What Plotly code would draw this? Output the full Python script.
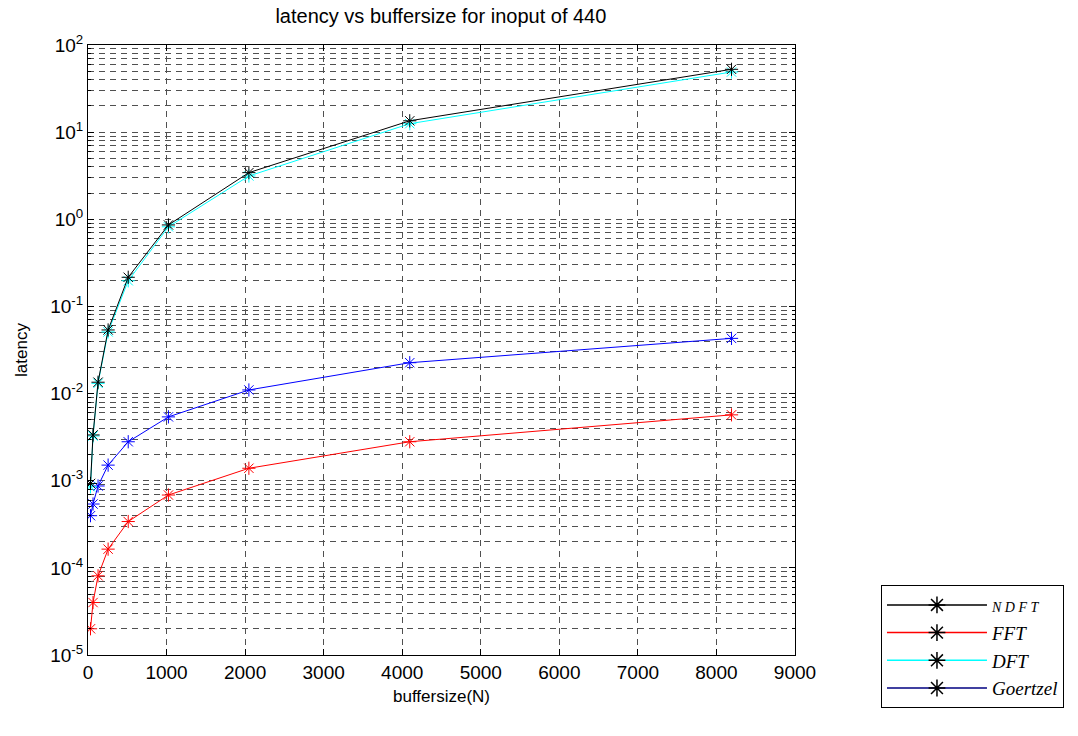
import plotly.graph_objects as go

# buffer sizes
N = [32, 64, 128, 256, 512, 1024, 2048, 4096, 8192]

# latency values
ndft = [9.3e-4, 3.35e-3, 1.35e-2, 5.37e-2, 0.216, 0.861, 3.43, 13.5, 52.6]
fft = [2.0e-5, 4.0e-5, 8.1e-5, 1.64e-4, 3.4e-4, 6.85e-4, 1.39e-3, 2.8e-3, 5.7e-3]
dft = [8.5e-4, 3.26e-3, 1.31e-2, 5.1e-2, 0.197, 0.82, 3.14, 12.5, 49.0]
goertzel = [3.97e-4, 5.4e-4, 8.7e-4, 1.51e-3, 2.8e-3, 5.4e-3, 1.1e-2, 2.26e-2, 4.3e-2]

x_ticks = [0, 1000, 2000, 3000, 4000, 5000, 6000, 7000, 8000, 9000]
y_exps = [-5, -4, -3, -2, -1, 0, 1, 2]

names = ["NDFT", "FFT", "DFT", "Goertzel"]
plot_colors = {"NDFT": "black", "FFT": "#ff0000", "DFT": "#00ffff", "Goertzel": "#0000ff"}
legend_colors = {"NDFT": "black", "FFT": "#ff0000", "DFT": "#00ffff", "Goertzel": "#000080"}
series = {"NDFT": ndft, "FFT": fft, "DFT": dft, "Goertzel": goertzel}

fig = go.Figure()

# plotted series (cyan under black)
for nm in ["FFT", "Goertzel", "DFT", "NDFT"]:
    c = plot_colors[nm]
    fig.add_trace(go.Scatter(
        x=N, y=series[nm], mode="lines+markers", showlegend=False,
        line=dict(color=c, width=1),
        marker=dict(symbol="asterisk-open", size=11, color=c, line=dict(color=c, width=1)),
    ))

# legend entries (black asterisks, as in the reference legend)
legend_labels = {
    "NDFT": "<span style='font-size:14px'>N D F T</span>",
    "FFT": "FFT",
    "DFT": "DFT",
    "Goertzel": "Goertzel",
}
for nm in names:
    fig.add_trace(go.Scatter(
        x=[None], y=[None], mode="lines+markers", name=legend_labels[nm],
        line=dict(color=legend_colors[nm], width=1.5),
        marker=dict(symbol="asterisk-open", size=14, color="black", line=dict(color="black", width=1.5)),
    ))

grid_col = "#505050"
tick_font = dict(family="Liberation Sans, Arial", size=19, color="black")
label_font = dict(family="Liberation Sans, Arial", size=17, color="black")

fig.update_layout(
    width=1078, height=736,
    margin=dict(l=88, r=283, t=45, b=81),
    paper_bgcolor="white", plot_bgcolor="white",
    title=dict(text="latency vs buffersize for inoput of 440", x=0.409, xanchor="center",
               y=0.978, yanchor="middle", font=dict(family="Liberation Sans, Arial", size=20, color="black")),
    legend=dict(x=1.1216, y=-0.087, xanchor="left", yanchor="bottom",
                bordercolor="black", borderwidth=1, bgcolor="white",
                font=dict(family="Liberation Serif, Times New Roman", size=19, style="italic", color="black"),
                tracegroupgap=0, itemwidth=100),
    xaxis=dict(
        range=[0, 9000], tickvals=x_ticks, ticktext=[str(v) for v in x_ticks],
        showline=True, linecolor="black", linewidth=1, mirror="ticks",
        ticks="inside", ticklen=6, tickcolor="black",
        showgrid=True, gridcolor=grid_col, griddash="6px,5px", gridwidth=1,
        zeroline=False, tickfont=tick_font,
        title=dict(text="buffersize(N)", font=label_font, standoff=8),
    ),
    yaxis=dict(
        type="log", range=[-5, 2],
        tickvals=[10.0 ** e for e in y_exps],
        ticktext=["10<sup>%d</sup>" % e for e in y_exps],
        showline=True, linecolor="black", linewidth=1, mirror="ticks",
        ticks="inside", ticklen=6, tickcolor="black",
        showgrid=True, gridcolor=grid_col, griddash="6px,5px", gridwidth=1,
        minor=dict(dtick="D1", showgrid=True, gridcolor=grid_col, griddash="6px,5px",
                   ticks="inside", ticklen=3, tickcolor="black"),
        zeroline=False, tickfont=tick_font,
        title=dict(text="latency", font=label_font, standoff=18),
    ),
)

fig.write_html("out.html")
